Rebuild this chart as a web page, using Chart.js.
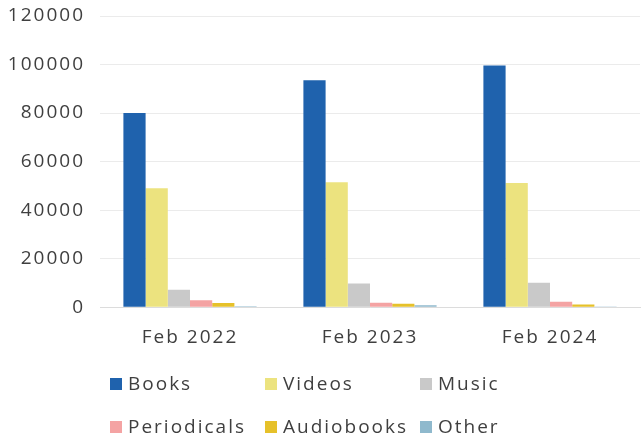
<!DOCTYPE html>
<html>
<head>
<meta charset="utf-8">
<script src="https://cdn.jsdelivr.net/npm/chart.js@4"></script>
<style>
    html, body { margin: 0; padding: 0; background: #fff; }
    #wrap { width: 644px; height: 444px; }
</style>
</head>
<body>
<div id="wrap"><canvas id="chart"></canvas></div>
<script>
// datos
const periodos = ['Feb 2022', 'Feb 2023', 'Feb 2024'];
const books = [80000, 93500, 99600];
const videos = [49000, 51500, 51200];
const music = [7200, 9800, 10100];
const periodicals = [2900, 1800, 2200];
const audiobooks = [1700, 1400, 1100];
const other = [400, 800, 250];
const yTicks = [0, 20000, 40000, 60000, 80000, 100000, 120000];

const fuente = '"Open Sans", sans-serif';
const colorTexto = '#3f3f3f';

// espaciado de letras, el canvas lo pierde al redimensionar
const letterSpacingPlugin = {
    id: 'letterSpacing',
    beforeUpdate(chart) { chart.ctx.letterSpacing = '2px'; },
    beforeDraw(chart) { chart.ctx.letterSpacing = '2px'; }
};

// leyenda en columnas como la original
const legendPlugin = {
    id: 'gridLegend',
    afterDraw(chart) {
        const ctx = chart.ctx;
        const cols = [110, 265, 420];
        const rows = [384, 427];
        ctx.save();
        ctx.letterSpacing = '2px';
        ctx.font = '19px ' + fuente;
        ctx.textBaseline = 'middle';
        ctx.textAlign = 'left';
        let prevEnd = 0;
        chart.data.datasets.forEach((ds, i) => {
            const row = Math.floor(i / 3);
            const col = i % 3;
            let x = cols[col];
            if (col > 0) x = Math.max(x, prevEnd + 2);
            const y = rows[row];
            ctx.fillStyle = ds.backgroundColor;
            ctx.fillRect(x, y - 6, 12, 12);
            ctx.fillStyle = colorTexto;
            ctx.fillText(ds.label, x + 18, y + 1);
            prevEnd = x + 18 + ctx.measureText(ds.label).width;
        });
        ctx.restore();
    }
};

new Chart(document.getElementById('chart'), {
    type: 'bar',
    data: {
        labels: periodos,
        datasets: [
            { label: 'Books', data: books, backgroundColor: '#1f62ad' },
            { label: 'Videos', data: videos, backgroundColor: '#ece37f' },
            { label: 'Music', data: music, backgroundColor: '#c9c9c9' },
            { label: 'Periodicals', data: periodicals, backgroundColor: '#f4a3a3' },
            { label: 'Audiobooks', data: audiobooks, backgroundColor: '#e6c12a' },
            { label: 'Other', data: other, backgroundColor: '#8fb9cd' }
        ]
    },
    options: {
        responsive: true,
        maintainAspectRatio: false,
        animation: false,
        layout: { padding: { top: 6, left: 8, right: 4, bottom: 84 } },
        datasets: {
            bar: { categoryPercentage: 0.74, barPercentage: 1.0 }
        },
        plugins: {
            legend: { display: false },
            tooltip: { enabled: false }
        },
        scales: {
            x: {
                grid: { display: false },
                border: { color: '#dcdcdc' },
                ticks: { color: colorTexto, font: { family: fuente, size: 19 }, padding: 11 }
            },
            y: {
                min: 0,
                max: 120000,
                afterBuildTicks(axis) { axis.ticks = yTicks.map(v => ({ value: v })); },
                afterFit(axis) {
                    axis.width = 92;
                    axis.paddingTop = 16;
                    axis.paddingBottom = 0;
                },
                grid: { color: '#ebebeb', drawTicks: false },
                border: { display: false },
                ticks: {
                    color: colorTexto,
                    font: { family: fuente, size: 19 },
                    padding: 15,
                    callback: v => String(v)
                }
            }
        }
    },
    plugins: [letterSpacingPlugin, legendPlugin]
});
</script>
</body>
</html>
